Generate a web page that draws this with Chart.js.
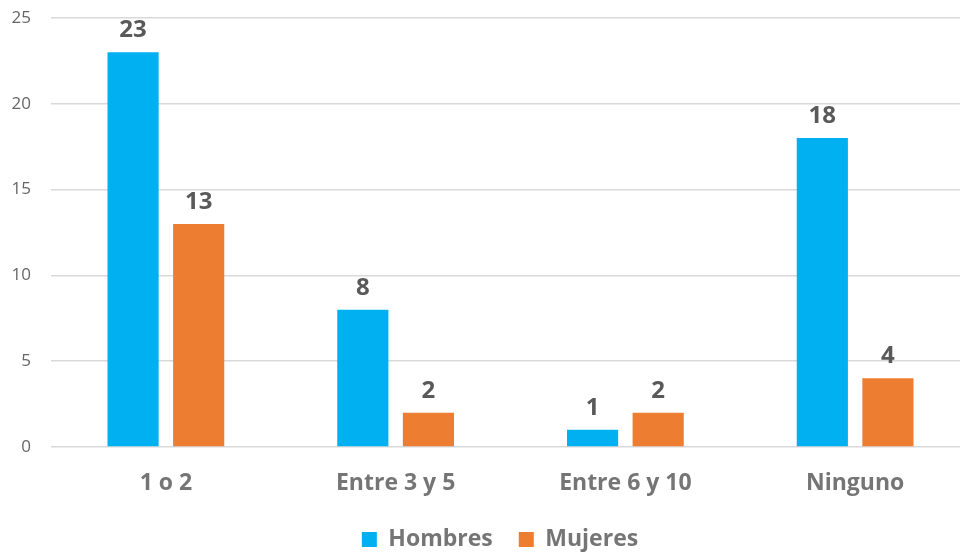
<!DOCTYPE html>
<html>
<head>
<meta charset="utf-8">
<script src="https://cdn.jsdelivr.net/npm/chart.js@4/dist/chart.umd.min.js"></script>
<style>
  html, body { margin: 0; padding: 0; background: #fff; overflow: hidden; }
  #wrap { width: 970px; height: 561px; }
</style>
</head>
<body>
<div id="wrap"><canvas id="grafico"></canvas></div>
<script>
const categorias = ['1 o 2', 'Entre 3 y 5', 'Entre 6 y 10', 'Ninguno'];
const hombres = [23, 8, 1, 18];
const mujeres = [13, 2, 2, 4];

// etiquetas encima de cada barra
const etiquetas = {
    id: 'etiquetas',
    afterDatasetsDraw(chart) {
        const ctx = chart.ctx;
        ctx.save();
        ctx.font = 'bold 24px "Open Sans", sans-serif';
        ctx.fillStyle = '#595959';
        ctx.textAlign = 'center';
        ctx.textBaseline = 'middle';
        chart.data.datasets.forEach((ds, i) => {
            chart.getDatasetMeta(i).data.forEach((bar, j) => {
                ctx.fillText(ds.data[j], bar.x, bar.y - 22);
            });
        });
        ctx.restore();
    }
};

// la leyenda va un poco a la derecha, centrada bajo el area de barras
const moverLeyenda = {
    id: 'moverLeyenda',
    afterLayout(chart) {
        chart.legend.left += 15;
        chart.legend.right += 15;
    }
};

const ctx = document.getElementById('grafico');
new Chart(ctx, {
    type: 'bar',
    data: {
        labels: categorias,
        datasets: [{
            label: 'Hombres',
            data: hombres,
            backgroundColor: '#00B0F0',
            categoryPercentage: 0.571,
            barPercentage: 0.78
        }, {
            label: 'Mujeres',
            data: mujeres,
            backgroundColor: '#ED7D31',
            categoryPercentage: 0.571,
            barPercentage: 0.78
        }]
    },
    options: {
        responsive: true,
        maintainAspectRatio: false,
        animation: false,
        layout: { padding: { top: 18, right: 0, left: 0, bottom: 0 } },
        plugins: {
            tooltip: { enabled: false },
            legend: {
                position: 'bottom',
                labels: {
                    font: { family: '"Open Sans", sans-serif', size: 23, weight: 'bold' },
                    color: '#757575',
                    boxWidth: 15,
                    boxHeight: 15,
                    padding: 26
                }
            }
        },
        scales: {
            x: {
                grid: { display: false },
                border: { display: false },
                ticks: {
                    color: '#757575',
                    font: { family: '"Open Sans", sans-serif', size: 23, weight: 'bold' },
                    padding: 15
                },
                afterFit(scale) { scale.height = 55; }
            },
            y: {
                min: 0,
                max: 25,
                ticks: {
                    stepSize: 5,
                    color: '#666666',
                    font: { family: '"Open Sans", sans-serif', size: 17 },
                    padding: 20
                },
                grid: { color: '#d9d9d9', lineWidth: 1.5, drawTicks: false },
                border: { display: false },
                afterFit(scale) {
                    scale.width = 51;
                    scale.paddingTop = 0;
                    scale.paddingBottom = 0;
                }
            }
        }
    },
    plugins: [etiquetas, moverLeyenda]
});
</script>
</body>
</html>
